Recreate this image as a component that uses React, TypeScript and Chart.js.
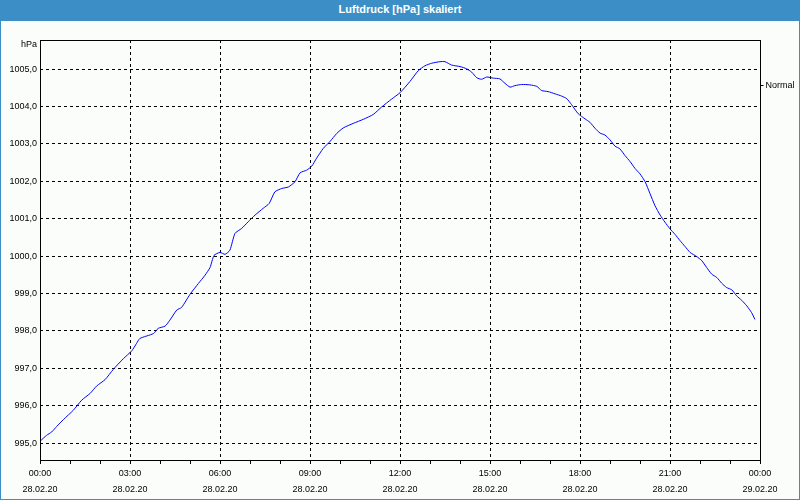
import React, { useEffect, useRef } from "react";
import { Chart, registerables } from "chart.js";

Chart.register(...registerables);

const TITLE = "Luftdruck [hPa] skaliert";
const Y_UNIT = "hPa";
const SERIES_NAME = "Normal";

// hours since 28.02.20 00:00
const timeHours = [
  0, 0.22, 0.39, 0.56, 0.78, 1.11, 1.39, 1.67, 1.89, 2.17, 2.44, 2.78, 3.06, 3.22, 3.33, 3.78,
  3.94, 4.17, 4.33, 4.56, 4.72, 5.0, 5.28, 5.5, 5.67, 5.8, 6.0, 6.17, 6.33, 6.5, 6.72, 6.94,
  7.17, 7.44, 7.64, 7.83, 8.06, 8.28, 8.5, 8.67, 8.89, 9.06, 9.22, 9.44, 9.67, 9.89, 10.11,
  10.44, 10.78, 11.11, 11.39, 11.72, 12.0, 12.33, 12.61, 12.83, 13.06, 13.33, 13.5, 13.72,
  14.0, 14.22, 14.39, 14.56, 14.72, 14.89, 15.11, 15.33, 15.5, 15.67, 15.83, 16.06, 16.33,
  16.56, 16.72, 16.94, 17.17, 17.39, 17.56, 17.72, 17.94, 18.17, 18.33, 18.5, 18.67, 18.83,
  19.0, 19.17, 19.33, 19.5, 19.67, 19.83, 20.0, 20.17, 20.33, 20.5, 20.67, 20.83, 21.0, 21.17,
  21.33, 21.5, 21.67, 21.89, 22.06, 22.22, 22.39, 22.56, 22.72, 22.89, 23.06, 23.22, 23.39,
  23.56, 23.72, 23.83,
];

const pressure = [
  995.05, 995.21, 995.3, 995.45, 995.63, 995.88, 996.15, 996.33, 996.53, 996.7, 996.97, 997.26,
  997.47, 997.67, 997.8, 997.93, 998.07, 998.13, 998.29, 998.56, 998.63, 998.98, 999.27, 999.49,
  999.7, 1000.02, 1000.1, 1000.05, 1000.16, 1000.61, 1000.74, 1000.92, 1001.1, 1001.28, 1001.41,
  1001.72, 1001.81, 1001.85, 1001.99, 1002.23, 1002.3, 1002.41, 1002.62, 1002.88, 1003.07,
  1003.28, 1003.43, 1003.55, 1003.66, 1003.79, 1003.99, 1004.2, 1004.37, 1004.67, 1004.96,
  1005.09, 1005.16, 1005.2, 1005.2, 1005.11, 1005.07, 1005.01, 1004.92, 1004.77, 1004.73,
  1004.79, 1004.76, 1004.74, 1004.62, 1004.52, 1004.56, 1004.59, 1004.58, 1004.54, 1004.43,
  1004.4, 1004.34, 1004.28, 1004.21, 1004.05, 1003.81, 1003.67, 1003.58, 1003.42, 1003.29,
  1003.24, 1003.11, 1002.94, 1002.87, 1002.69, 1002.53, 1002.35, 1002.2, 1001.99, 1001.68,
  1001.35, 1001.1, 1000.91, 1000.73, 1000.58, 1000.42, 1000.26, 1000.1, 999.99, 999.88, 999.7,
  999.52, 999.43, 999.28, 999.16, 999.1, 998.94, 998.82, 998.67, 998.49, 998.31,
];

const yTicks = [995, 996, 997, 998, 999, 1000, 1001, 1002, 1003, 1004, 1005];
const xTickHours = [0, 3, 6, 9, 12, 15, 18, 21, 24];
const xTickTimes = ["00:00", "03:00", "06:00", "09:00", "12:00", "15:00", "18:00", "21:00", "00:00"];
const xTickDates = [
  "28.02.20", "28.02.20", "28.02.20", "28.02.20", "28.02.20",
  "28.02.20", "28.02.20", "28.02.20", "29.02.20",
];

const Y_MIN = 994.55;
const Y_MAX = 1005.78;
const FONT = "'Liberation Sans', Arial, sans-serif";

export default function App() {
  const canvasRef = useRef<HTMLCanvasElement | null>(null);

  useEffect(() => {
    const canvas = canvasRef.current;
    if (!canvas) return;

    const framePlugin = {
      id: "frame",
      afterDraw(chart: any) {
        const { ctx, chartArea } = chart;
        const l = Math.round(chartArea.left) + 0.5;
        const t = Math.round(chartArea.top) + 0.5;
        const r = Math.round(chartArea.right) + 0.5;
        const b = Math.round(chartArea.bottom) + 0.5;
        ctx.save();
        ctx.strokeStyle = "#000";
        ctx.lineWidth = 1;
        ctx.setLineDash([]);
        ctx.strokeRect(l, t, r - l, b - t);
        // unit label
        ctx.fillStyle = "#000";
        ctx.font = `9px ${FONT}`;
        ctx.textAlign = "right";
        ctx.textBaseline = "middle";
        ctx.fillText(Y_UNIT, l - 3.5, t + 4.5);
        // series label on the right
        ctx.textAlign = "left";
        ctx.beginPath();
        ctx.moveTo(r, 85.5);
        ctx.lineTo(r + 3, 85.5);
        ctx.stroke();
        ctx.fillText(SERIES_NAME, r + 5, 85.5);
        ctx.restore();
      },
    };

    const chart = new Chart(canvas, {
      type: "line",
      data: {
        datasets: [
          {
            label: SERIES_NAME,
            data: timeHours.map((h, i) => ({ x: h, y: pressure[i] })),
            borderColor: "#0000ff",
            borderWidth: 1,
            pointRadius: 0,
            tension: 0.2,
            fill: false,
          },
        ],
      },
      options: {
        responsive: false,
        animation: false,
        devicePixelRatio: 1,
        layout: { padding: { top: 40, right: 40, left: 0, bottom: 0 } },
        plugins: {
          legend: { display: false },
          title: { display: false },
          tooltip: { enabled: false },
        },
        scales: {
          x: {
            type: "linear",
            min: 0,
            max: 24,
            afterFit: (scale: any) => {
              scale.height = 40;
            },
            afterBuildTicks: (scale: any) => {
              const t: any[] = [];
              for (let h = 0; h <= 24; h++) t.push({ value: h });
              scale.ticks = t;
            },
            border: { display: false, dash: [3, 3] },
            grid: {
              color: (c: any) => {
                const v = c.tick ? c.tick.value : 0;
                return v % 3 === 0 && v > 0 && v < 24 ? "#000" : "rgba(0,0,0,0)";
              },
              tickColor: "#000",
              tickLength: 4,
              tickBorderDash: [],
              lineWidth: 1,
            } as any,
            ticks: {
              autoSkip: false,
              maxRotation: 0,
              minRotation: 0,
              padding: 2,
              color: "#000",
              font: { family: FONT, size: 9, lineHeight: 1.75 },
              callback: (value: any) => {
                const i = xTickHours.indexOf(Number(value));
                return i >= 0 ? [xTickTimes[i], xTickDates[i]] : "";
              },
            },
          },
          y: {
            type: "linear",
            min: Y_MIN,
            max: Y_MAX,
            afterFit: (scale: any) => {
              scale.width = 40;
            },
            afterBuildTicks: (scale: any) => {
              scale.ticks = yTicks.map((v) => ({ value: v }));
            },
            border: { display: false, dash: [3, 3] },
            grid: {
              color: "#000",
              drawTicks: false,
              lineWidth: 1,
            },
            ticks: {
              padding: 3,
              color: "#000",
              font: { family: FONT, size: 9 },
              callback: (value: any) => Number(value).toFixed(1).replace(".", ","),
            },
          },
        },
      },
      plugins: [framePlugin],
    } as any);

    return () => chart.destroy();
  }, []);

  return (
    <div
      style={{
        position: "absolute",
        left: 0,
        top: 0,
        width: 800,
        height: 500,
        background: "#3c8fc6",
        overflow: "hidden",
      }}
    >
      <div
        style={{
          position: "absolute",
          left: 1,
          top: 21,
          width: 798,
          height: 478,
          background: "#fbfdfa",
        }}
      />
      <div
        style={{
          position: "absolute",
          left: 0,
          top: 0,
          width: 800,
          height: 21,
          lineHeight: "19px",
          textAlign: "center",
          color: "#ffffff",
          fontFamily: FONT,
          fontWeight: "bold",
          fontSize: 11,
        }}
      >
        {TITLE}
      </div>
      <canvas
        ref={canvasRef}
        width={800}
        height={500}
        style={{ position: "absolute", left: 0, top: 0, width: 800, height: 500 }}
      />
    </div>
  );
}
